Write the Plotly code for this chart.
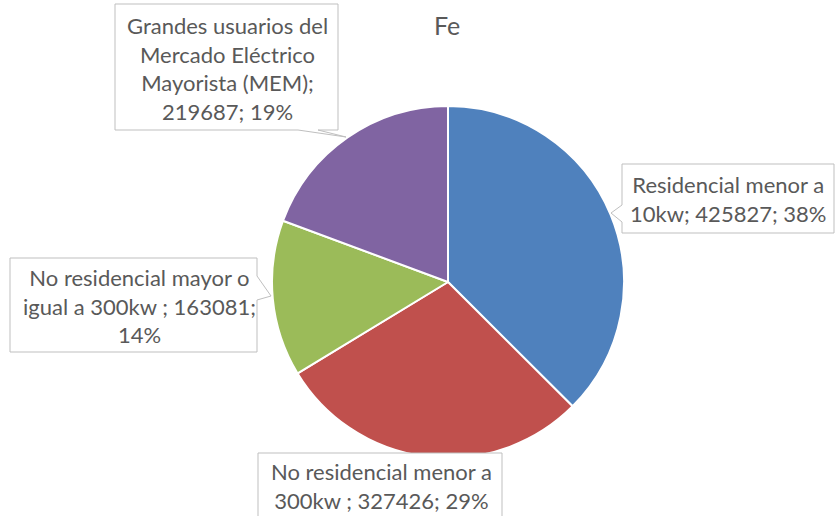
import plotly.graph_objects as go

W, H = 835, 516

title = "Fe"
categories = [
    "Residencial menor a 10kw",
    "No residencial menor a 300kw ",
    "No residencial mayor o igual a 300kw ",
    "Grandes usuarios del Mercado Eléctrico Mayorista (MEM)",
]
values = [425827, 327426, 163081, 219687]
shown_percent = [38, 29, 14, 19]
colors = ["#4F81BD", "#C0504D", "#9BBB59", "#8064A2"]

# label line breaks as in the chart
label_lines = [
    ["Residencial menor a", "10kw; {v}; {p}%"],
    ["No residencial menor a", "300kw ; {v}; {p}%"],
    ["No residencial mayor o", "igual a 300kw ; {v};", "{p}%"],
    ["Grandes usuarios del", "Mercado Eléctrico", "Mayorista (MEM);", "{v}; {p}%"],
]


def px(x):
    return x / W


def py(y):
    return 1 - y / H


cx, cy, r = 448, 282, 176

fig = go.Figure(
    go.Pie(
        labels=categories,
        values=values,
        marker=dict(colors=colors, line=dict(color="white", width=2)),
        sort=False,
        direction="clockwise",
        rotation=0,
        textinfo="none",
        hoverinfo="label+value+percent",
        domain=dict(x=[px(cx - r), px(cx + r)], y=[py(cy + r), py(cy - r)]),
    )
)

# callout boxes (pixel outlines incl. tails)
callouts = [
    # blue
    [(622, 164), (834, 164), (834, 233), (622, 233), (622, 222), (611, 213), (622, 205)],
    # red
    [(258, 453), (502, 453), (502, 520), (258, 520)],
    # green
    [(10, 258), (257, 258), (257, 276), (271, 296), (257, 300), (257, 352), (10, 352)],
    # purple
    [(115, 4), (338, 4), (338, 130), (318, 130), (346, 137), (298, 130), (115, 130)],
]
text_pos = [(728, 199), (381, 486), (139, 306), (227, 68)]

shapes = []
for pts in callouts:
    path = "M " + " L ".join(f"{px(x)},{py(y)}" for x, y in pts) + " Z"
    shapes.append(
        dict(type="path", xref="paper", yref="paper", path=path,
             line=dict(color="#BFBFBF", width=1), fillcolor="white", layer="above")
    )

annotations = []
for i, lines in enumerate(label_lines):
    txt = "<br>".join(l.format(v=values[i], p=shown_percent[i]) for l in lines)
    x, y = text_pos[i]
    annotations.append(
        dict(x=px(x), y=py(y), xref="paper", yref="paper", text=txt, showarrow=False,
             xanchor="center", yanchor="middle", align="center",
             font=dict(family="Lato", size=22, color="#595959"))
    )

annotations.append(
    dict(x=px(447), y=py(25), xref="paper", yref="paper", text=title, showarrow=False,
         xanchor="center", yanchor="middle",
         font=dict(family="Lato", size=25, color="#595959"))
)

fig.update_layout(
    width=W, height=H,
    margin=dict(l=0, r=0, t=0, b=0),
    paper_bgcolor="white", plot_bgcolor="white",
    showlegend=False,
    shapes=shapes,
    annotations=annotations,
)

fig.write_html(
    "out.html",
    config={"displayModeBar": False},
    post_script="document.body.style.margin='0';document.body.style.overflow='hidden';",
)
